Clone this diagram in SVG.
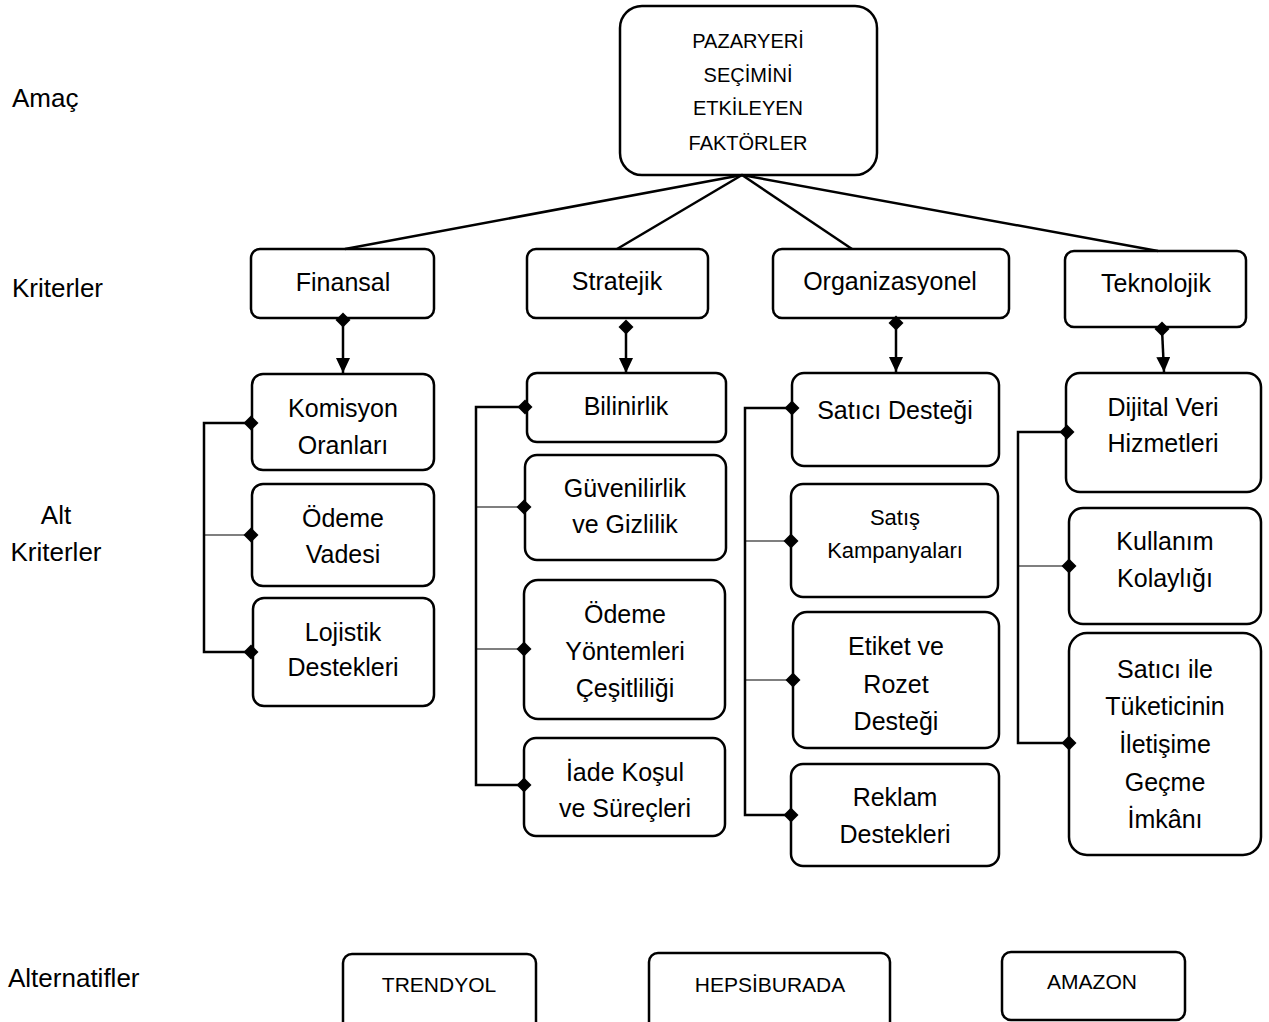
<svg xmlns="http://www.w3.org/2000/svg" xmlns:xlink="http://www.w3.org/1999/xlink" width="1269" height="1022" viewBox="0 0 1269 1022">
<style>
text{font-family:"Liberation Sans",Arial,sans-serif;fill:#000;}
.box{fill:#fff;stroke:#000;stroke-width:2.5;}
.t{font-size:25px;text-anchor:middle;}
.ts{font-size:20px;text-anchor:middle;}
.tb{font-size:21px;text-anchor:middle;}
.tk{font-size:22px;text-anchor:middle;}
.lbl{font-size:26px;}
.thick{stroke:#000;stroke-width:2.5;fill:none;}
.thin{stroke:#000;stroke-width:1.2;fill:none;}
</style>
<defs>
<path id="dia" d="M0,-7.5 L7.5,0 L0,7.5 L-7.5,0 Z" fill="#000"/>
<marker id="arr" viewBox="0 0 15 14" refX="15" refY="7" markerWidth="15" markerHeight="14" markerUnits="userSpaceOnUse" orient="auto">
<path d="M0,0 L15,7 L0,14 Z" fill="#000"/>
</marker>
</defs>
<rect width="1269" height="1022" fill="#fff"/>

<g id="labels">
<text class="lbl" x="12" y="107">Amaç</text>
<text class="lbl" x="12" y="297">Kriterler</text>
<text class="lbl" x="56" y="524" text-anchor="middle">Alt</text>
<text class="lbl" x="56" y="561" text-anchor="middle">Kriterler</text>
<text class="lbl" x="8" y="987">Alternatifler</text>
</g>

<g id="goal">
<rect class="box" x="620" y="6" width="257" height="169" rx="22"/>
<text class="ts" x="748" y="48">PAZARYERİ</text>
<text class="ts" x="748" y="82">SEÇİMİNİ</text>
<text class="ts" x="748" y="115">ETKİLEYEN</text>
<text class="ts" x="748" y="150">FAKTÖRLER</text>
</g>

<g id="finansal">
<rect class="box" x="251" y="249" width="183" height="69" rx="9"/>
<text class="t" x="343" y="291">Finansal</text>
</g>
<g id="stratejik">
<rect class="box" x="527" y="249" width="181" height="69" rx="9"/>
<text class="t" x="617" y="290">Stratejik</text>
</g>
<g id="organizasyonel">
<rect class="box" x="773" y="249" width="236" height="69" rx="9"/>
<text class="t" x="890" y="290">Organizasyonel</text>
</g>
<g id="teknolojik">
<rect class="box" x="1065" y="251" width="181" height="76" rx="9"/>
<text class="t" x="1156" y="292">Teknolojik</text>
</g>

<g id="komisyon">
<rect class="box" x="252" y="374" width="182" height="96" rx="11"/>
<text class="t" x="343" y="417">Komisyon</text>
<text class="t" x="343" y="454">Oranları</text>
</g>
<g id="odeme-vadesi">
<rect class="box" x="252" y="484" width="182" height="102" rx="11"/>
<text class="t" x="343" y="527">Ödeme</text>
<text class="t" x="343" y="563">Vadesi</text>
</g>
<g id="lojistik">
<rect class="box" x="253" y="598" width="181" height="108" rx="11"/>
<text class="t" x="343" y="641">Lojistik</text>
<text class="t" x="343" y="676">Destekleri</text>
</g>

<g id="bilinirlik">
<rect class="box" x="527" y="373" width="199" height="69" rx="10"/>
<text class="t" x="626" y="415">Bilinirlik</text>
</g>
<g id="guvenilirlik">
<rect class="box" x="525" y="455" width="201" height="105" rx="12"/>
<text class="t" x="625" y="497">Güvenilirlik</text>
<text class="t" x="625" y="533">ve Gizlilik</text>
</g>
<g id="odeme-yontemleri">
<rect class="box" x="524" y="580" width="201" height="139" rx="14"/>
<text class="t" x="625" y="623">Ödeme</text>
<text class="t" x="625" y="660">Yöntemleri</text>
<text class="t" x="625" y="697">Çeşitliliği</text>
</g>
<g id="iade">
<rect class="box" x="524" y="738" width="201" height="98" rx="12"/>
<text class="t" x="625" y="781">İade Koşul</text>
<text class="t" x="625" y="817">ve Süreçleri</text>
</g>

<g id="satici-destegi">
<rect class="box" x="792" y="373" width="207" height="93" rx="12"/>
<text class="t" x="895" y="419">Satıcı Desteği</text>
</g>
<g id="satis-kampanyalari">
<rect class="box" x="791" y="484" width="207" height="113" rx="12"/>
<text class="tk" x="895" y="525">Satış</text>
<text class="tk" x="895" y="558">Kampanyaları</text>
</g>
<g id="etiket">
<rect class="box" x="793" y="612" width="206" height="136" rx="14"/>
<text class="t" x="896" y="655">Etiket ve</text>
<text class="t" x="896" y="693">Rozet</text>
<text class="t" x="896" y="730">Desteği</text>
</g>
<g id="reklam">
<rect class="box" x="791" y="764" width="208" height="102" rx="12"/>
<text class="t" x="895" y="806">Reklam</text>
<text class="t" x="895" y="843">Destekleri</text>
</g>

<g id="dijital">
<rect class="box" x="1066" y="373" width="195" height="119" rx="14"/>
<text class="t" x="1163" y="416">Dijital Veri</text>
<text class="t" x="1163" y="452">Hizmetleri</text>
</g>
<g id="kullanim">
<rect class="box" x="1069" y="508" width="192" height="116" rx="14"/>
<text class="t" x="1165" y="550">Kullanım</text>
<text class="t" x="1165" y="587">Kolaylığı</text>
</g>
<g id="iletisim">
<rect class="box" x="1069" y="633" width="192" height="222" rx="18"/>
<text class="t" x="1165" y="678">Satıcı ile</text>
<text class="t" x="1165" y="715">Tüketicinin</text>
<text class="t" x="1165" y="753">İletişime</text>
<text class="t" x="1165" y="791">Geçme</text>
<text class="t" x="1165" y="828">İmkânı</text>
</g>

<g id="trendyol">
<rect class="box" x="343" y="954" width="193" height="80" rx="9"/>
<text class="tb" x="439" y="992">TRENDYOL</text>
</g>
<g id="hepsiburada">
<rect class="box" x="649" y="953" width="241" height="80" rx="9"/>
<text class="tb" x="770" y="992">HEPSİBURADA</text>
</g>
<g id="amazon">
<rect class="box" x="1002" y="952" width="183" height="68" rx="9"/>
<text class="tb" x="1092" y="989">AMAZON</text>
</g>

<g id="connectors">
<line class="thick" x1="742" y1="175" x2="345" y2="249"/>
<line class="thick" x1="742" y1="175" x2="617" y2="249"/>
<line class="thick" x1="742" y1="175" x2="852" y2="249"/>
<line class="thick" x1="742" y1="175" x2="1158" y2="251"/>

<line class="thick" x1="343" y1="320" x2="343" y2="373" marker-end="url(#arr)"/>
<use xlink:href="#dia" x="343" y="320"/>
<line class="thick" x1="626" y1="327" x2="626" y2="373" marker-end="url(#arr)"/>
<use xlink:href="#dia" x="626" y="327"/>
<line class="thick" x1="896" y1="323" x2="896" y2="372" marker-end="url(#arr)"/>
<use xlink:href="#dia" x="896" y="323"/>
<line class="thick" x1="1162" y1="329" x2="1164" y2="372" marker-end="url(#arr)"/>
<use xlink:href="#dia" x="1162" y="329"/>

<polyline class="thick" points="251,423 204,423 204,652 251,652"/>
<line class="thin" x1="204" y1="535" x2="251" y2="535"/>
<use xlink:href="#dia" x="251" y="423"/>
<use xlink:href="#dia" x="251" y="535"/>
<use xlink:href="#dia" x="251" y="652"/>

<polyline class="thick" points="525,407 476,407 476,785 524,785"/>
<line class="thin" x1="476" y1="507" x2="524" y2="507"/>
<line class="thin" x1="476" y1="649" x2="524" y2="649"/>
<use xlink:href="#dia" x="525" y="407"/>
<use xlink:href="#dia" x="524" y="507"/>
<use xlink:href="#dia" x="524" y="649"/>
<use xlink:href="#dia" x="524" y="785"/>

<polyline class="thick" points="792,408 745,408 745,815 791,815"/>
<line class="thin" x1="745" y1="541" x2="791" y2="541"/>
<line class="thin" x1="745" y1="680" x2="793" y2="680"/>
<use xlink:href="#dia" x="792" y="408"/>
<use xlink:href="#dia" x="791" y="541"/>
<use xlink:href="#dia" x="793" y="680"/>
<use xlink:href="#dia" x="791" y="815"/>

<polyline class="thick" points="1067,432 1018,432 1018,743 1069,743"/>
<line class="thin" x1="1018" y1="566" x2="1069" y2="566"/>
<use xlink:href="#dia" x="1067" y="432"/>
<use xlink:href="#dia" x="1069" y="566"/>
<use xlink:href="#dia" x="1069" y="743"/>
</g>
</svg>
